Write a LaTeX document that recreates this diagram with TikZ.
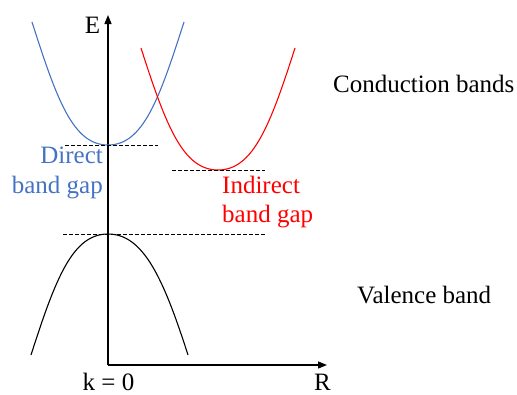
\documentclass[tikz,border=0pt]{standalone}
\usepackage{fontspec}
\setmainfont{Liberation Serif}
\usetikzlibrary{arrows.meta}
\definecolor{directBlue}{RGB}{68,114,196}
\definecolor{indirectRed}{RGB}{255,0,0}

\begin{document}
\begin{tikzpicture}[x=1pt, y=-1pt,
  every node/.style={font=\fontsize{25}{30}\selectfont, inner sep=0pt},
  axis/.style={line width=1.3pt, -{Triangle[length=9pt, width=7pt]}},
  band/.style={line width=1.1pt},
  gapline/.style={line width=0.9pt, dash pattern=on 3.5pt off 2.5pt}]
  \useasboundingbox (0,0) rectangle (517,394);

  % axes
  \coordinate (origin) at (108,365);
  \coordinate (etop) at (108,15);
  \coordinate (rend) at (327,365);
  \draw[axis] (origin) -- (etop);
  \draw[axis] (origin) -- (rend);
  \node[anchor=base] (elabel) at (92.5,33) {E};
  \node[anchor=base west] (rlabel) at (314,390) {R};
  \node[anchor=base] (klabel) at (108.5,390) {k = 0};

  % bands
  \draw[band, directBlue] (32,22) .. controls (57,100) and (73,145) .. (108,145)
    .. controls (143,145) and (159,100) .. (184,22);
  \draw[band, indirectRed] (141,48) .. controls (166,126) and (183,170) .. (218,170)
    .. controls (253,170) and (270,126) .. (295,48);
  \draw[band, black] (31,355) .. controls (56,277) and (73,234) .. (108,234)
    .. controls (143,234) and (163,277) .. (188,355);

  % gap levels
  \coordinate (dirL) at (65,145);
  \coordinate (dirR) at (158,145);
  \coordinate (indL) at (172,170);
  \coordinate (indR) at (265,170);
  \coordinate (valL) at (63,234);
  \coordinate (valR) at (265,234);
  \draw[gapline] (dirL) -- (dirR);
  \draw[gapline] (indL) -- (indR);
  \draw[gapline] (valL) -- (valR);

  % labels
  \node[directBlue, anchor=base east] (direct1) at (103,163) {Direct};
  \node[directBlue, anchor=base east] (direct2) at (103,193) {band gap};
  \node[indirectRed, anchor=base west] (indirect1) at (222,193) {Indirect};
  \node[indirectRed, anchor=base west] (indirect2) at (222,222) {band gap};
  \node[anchor=base west] (cond) at (333,92) {Conduction bands};
  \node[anchor=base west] (val) at (357,303) {Valence band};
\end{tikzpicture}
\end{document}
